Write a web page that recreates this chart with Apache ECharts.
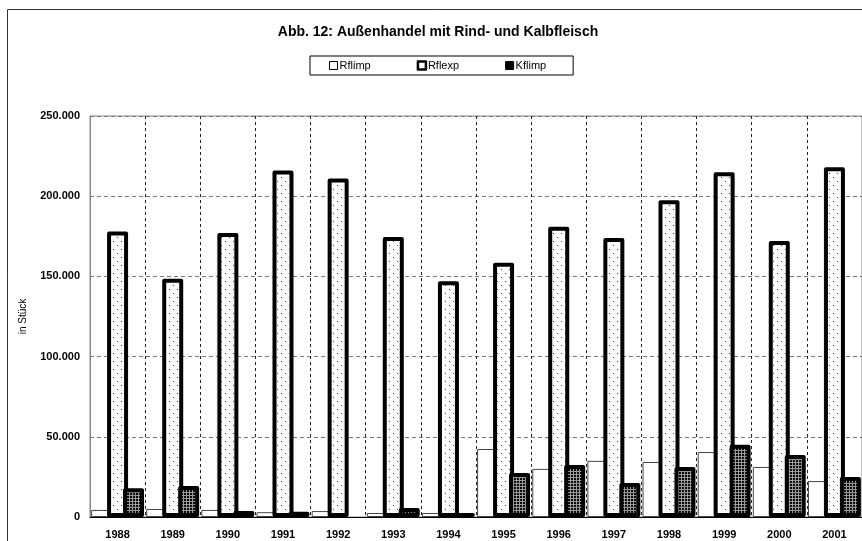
<!DOCTYPE html>
<html>
<head>
<meta charset="utf-8">
<script src="https://cdn.jsdelivr.net/npm/echarts@6/dist/echarts.min.js"></script>
<style>
  html, body { margin: 0; padding: 0; background: #fff; }
  #chart { width: 862px; height: 541px; }
</style>
</head>
<body>
<div id="chart"></div>
<script>
const years = ['1988', '1989', '1990', '1991', '1992', '1993', '1994',
    '1995', '1996', '1997', '1998', '1999', '2000', '2001'];
const rflimp = [4400, 5000, 4400, 3000, 3700, 2500, 2500, 42400, 30000, 35000, 34300, 40500, 31200, 22400];
const rflexp = [178000, 148500, 177000, 216000, 211000, 174500, 147000, 158500, 181000, 174000, 197500, 215000, 172000, 218000];
const kflimp = [18000, 19300, 3800, 3200, 0, 5600, 2500, 27400, 32400, 21200, 31200, 45000, 38600, 25000];
const yTicks = [0, 50000, 100000, 150000, 200000, 250000];

const font = 'Liberation Sans, Arial, sans-serif';

// small tiles for the excel-like fill patterns
function dotTile() {
    const c = document.createElement('canvas');
    c.width = 8; c.height = 8;
    const g = c.getContext('2d');
    g.fillStyle = '#fff';
    g.fillRect(0, 0, 8, 8);
    g.fillStyle = '#444';
    g.fillRect(1, 1, 1, 1);
    g.fillRect(5, 5, 1, 1);
    return c;
}
function gridTile() {
    const c = document.createElement('canvas');
    c.width = 3; c.height = 3;
    const g = c.getContext('2d');
    g.fillStyle = '#0a0a0a';
    g.fillRect(0, 0, 3, 3);
    g.fillStyle = '#9a9a9a';
    g.fillRect(0, 0, 3, 1);
    g.fillRect(0, 0, 1, 3);
    return c;
}

function fmt(v) {
    return String(v).replace(/\B(?=(\d{3})+(?!\d))/g, '.');
}

// a zero bar gets no outline, like in the excel original
function noZeroOutline(arr) {
    return arr.map(v => v === 0 ? { value: v, itemStyle: { borderWidth: 0 } } : v);
}

const chart = echarts.init(document.getElementById('chart'));

chart.setOption({
    backgroundColor: '#fff',
    animation: false,
    graphic: [
        {
            type: 'rect',
            shape: { x: 7.5, y: 9.5, width: 900, height: 600 },
            style: { fill: 'none', stroke: '#333', lineWidth: 1 },
            z: -1
        },
        {
            type: 'text',
            x: 438, y: 32,
            style: {
                text: 'Abb. 12: Außenhandel mit Rind- und Kalbfleisch',
                font: 'bold 14px ' + font,
                fill: '#000',
                align: 'center',
                verticalAlign: 'middle'
            }
        }
    ],
    legend: {
        left: 310,
        top: 56,
        padding: [4, 27, 4, 19],
        itemGap: 46,
        itemWidth: 8,
        itemHeight: 8,
        borderColor: '#000',
        borderWidth: 1,
        textStyle: { fontSize: 11, fontFamily: font, color: '#000', padding: [0, 0, 0, -3] },
        data: [
            { name: 'Rflimp', icon: 'rect', itemStyle: { color: '#fff', borderColor: '#000', borderWidth: 1 } },
            { name: 'Rflexp', icon: 'rect', itemStyle: { color: '#fff', borderColor: '#000', borderWidth: 2.5 } },
            { name: 'Kflimp', icon: 'rect', itemStyle: { color: '#000', borderColor: '#000', borderWidth: 1 } }
        ]
    },
    grid: {
        left: 90,
        top: 116,
        bottom: 24,
        width: 776,
        show: true,
        borderColor: '#888',
        borderWidth: 1
    },
    xAxis: {
        type: 'category',
        data: years,
        axisLine: { lineStyle: { color: '#000', width: 1 } },
        axisTick: { show: false },
        axisLabel: { margin: 12, fontSize: 11, fontWeight: 'bold', fontFamily: font, color: '#000' },
        splitLine: { show: true, lineStyle: { color: '#222', type: [3, 3], width: 1 } }
    },
    yAxis: {
        type: 'value',
        min: 0,
        max: yTicks[yTicks.length - 1],
        interval: yTicks[1] - yTicks[0],
        name: 'in Stück',
        nameLocation: 'middle',
        nameGap: 62,
        nameTextStyle: { fontSize: 10, fontFamily: font, color: '#000' },
        axisLine: { show: true, lineStyle: { color: '#888' } },
        axisTick: { show: false },
        axisLabel: { margin: 10, fontSize: 11, fontWeight: 'bold', fontFamily: font, color: '#000', formatter: fmt },
        splitLine: { lineStyle: { color: '#777', type: [4, 3], width: 1 } }
    },
    series: [
        {
            name: 'Rflimp',
            type: 'bar',
            barWidth: 21,
            barGap: '-24%',
            data: rflimp,
            itemStyle: { color: '#fff', borderColor: '#444', borderWidth: 1 }
        },
        {
            name: 'Rflexp',
            type: 'bar',
            barWidth: 21,
            barGap: '-24%',
            data: rflexp,
            itemStyle: {
                color: { image: dotTile(), repeat: 'repeat' },
                borderColor: '#000',
                borderWidth: 4,
                borderJoin: 'round'
            }
        },
        {
            name: 'Kflimp',
            type: 'bar',
            barWidth: 21,
            barGap: '-24%',
            data: noZeroOutline(kflimp),
            itemStyle: {
                color: { image: gridTile(), repeat: 'repeat' },
                borderColor: '#000',
                borderWidth: 4,
                borderJoin: 'round'
            }
        }
    ]
});
</script>
</body>
</html>
